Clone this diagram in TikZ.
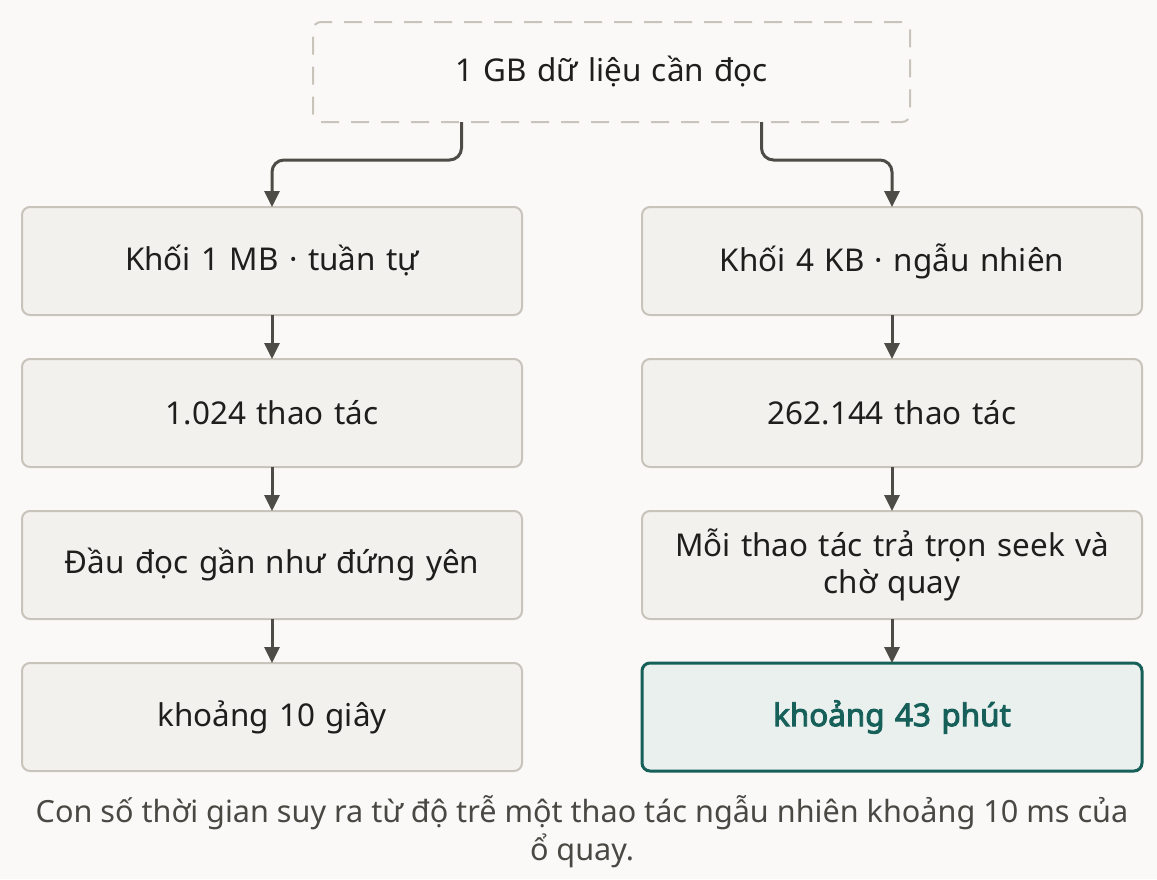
\documentclass[tikz,border=0pt]{standalone}
\usepackage{fontspec}
\setmainfont{Noto Sans}[AutoFakeBold=3]
\usetikzlibrary{positioning,arrows.meta}
\definecolor{bgpaper}{HTML}{FAF9F7}
\definecolor{boxfill}{HTML}{F2F1ED}
\definecolor{boxline}{HTML}{C8C4BC}
\definecolor{arrowgrey}{HTML}{4D4C47}
\definecolor{inktext}{HTML}{1F1E1C}
\definecolor{notetext}{HTML}{4A4843}
\definecolor{tealline}{HTML}{17605A}
\definecolor{tealfill}{HTML}{E9F0EE}
\tikzset{%
  stage/.style={rectangle,rounded corners=4pt,draw=boxline,line width=1pt,
    fill=boxfill,text=inktext,minimum width=250pt,minimum height=54pt,
    outer sep=0pt,inner xsep=2pt,text width=246pt,align=center,
    font=\fontsize{15.7}{18.5}\selectfont},
  source/.style={stage,dash pattern=on 9pt off 6pt,fill=none,
    minimum width=298.5pt,minimum height=50pt},
  result/.style={stage,draw=tealline,line width=1.5pt,fill=tealfill,
    text=tealline,font=\fontsize{15.7}{18.5}\selectfont\bfseries},
  flow/.style={draw=arrowgrey,line width=1.5pt,rounded corners=6pt,
    -{Triangle[length=8pt,width=7.5pt]}}
}
\begin{document}
\begin{tikzpicture}[node distance=22pt]
  \fill[bgpaper] (0,0) rectangle (578.5pt,-439.5pt);
  \useasboundingbox (0,0) rectangle (578.5pt,-439.5pt);

  \node [source] (data) at (305.75pt,-36pt) {1 GB dữ liệu cần đọc};

  % sequential column
  \node [stage] (seqblk) at (136pt,-130.5pt) {Khối 1 MB · tuần tự};
  \node [stage] (seqops)  [below=of seqblk] {1.024 thao tác};
  \node [stage] (seqhead) [below=of seqops] {Đầu đọc gần như đứng yên};
  \node [stage] (seqtime) [below=of seqhead] {khoảng 10 giây};

  % random column
  \node [stage]  (rndblk)  [right=60pt of seqblk] {Khối 4 KB · ngẫu nhiên};
  \node [stage]  (rndops)  [below=of rndblk] {262.144 thao tác};
  \node [stage]  (rndseek) [below=of rndops] {Mỗi thao tác trả trọn seek và\\chờ quay};
  \node [result] (rndtime) [below=of rndseek] {khoảng 43 phút};

  \draw [flow] ([xshift=-75pt]data.south) -- ++(0,-19pt) -| (seqblk.north);
  \draw [flow] ([xshift=75pt]data.south) -- ++(0,-19pt) -| (rndblk.north);
  \draw [flow] (seqblk) -- (seqops);
  \draw [flow] (seqops) -- (seqhead);
  \draw [flow] (seqhead) -- (seqtime);
  \draw [flow] (rndblk) -- (rndops);
  \draw [flow] (rndops) -- (rndseek);
  \draw [flow] (rndseek) -- (rndtime);

  \node [text=notetext,align=center,font=\fontsize{15.3}{19}\selectfont]
    (note) at (291pt,-416pt)
    {Con số thời gian suy ra từ độ trễ một thao tác ngẫu nhiên khoảng 10 ms của\\ổ quay.};
\end{tikzpicture}
\end{document}
